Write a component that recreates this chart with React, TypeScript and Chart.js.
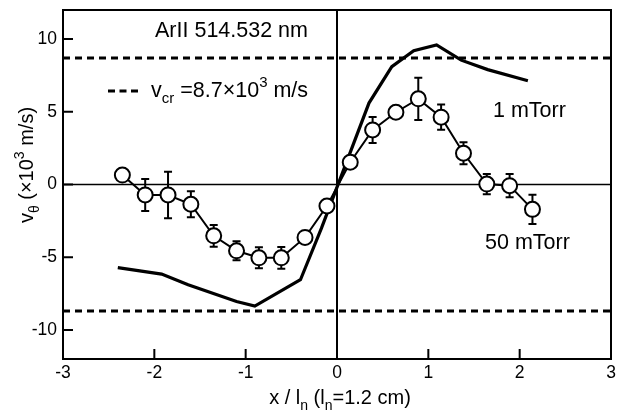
import React, { useEffect, useRef } from 'react';
import { Chart, registerables } from 'chart.js';

Chart.register(...registerables);

// 50 mTorr measured points (open circles with error bars)
const x50 = [-2.35, -2.1, -1.85, -1.6, -1.35, -1.1, -0.855, -0.61, -0.35, -0.11, 0.145, 0.39, 0.645, 0.89, 1.14, 1.385, 1.64, 1.89, 2.14];
const y50 = [0.65, -0.72, -0.72, -1.36, -3.53, -4.56, -5.04, -5.04, -3.64, -1.48, 1.53, 3.75, 4.97, 5.89, 4.63, 2.15, 0.03, -0.08, -1.71];
const err50 = [0, 1.1, 1.6, 0.9, 0.75, 0.65, 0.72, 0.75, 0, 0, 0, 0.9, 0, 1.45, 0.87, 0.75, 0.7, 0.8, 1.0];

// 1 mTorr solid curve
const x1 = [-2.4, -1.92, -1.63, -1.1, -0.9, -0.4, -0.17, 0.12, 0.35, 0.6, 0.84, 1.09, 1.36, 1.65, 2.09];
const y1 = [-5.72, -6.16, -6.9, -8.05, -8.36, -6.55, -3.0, 1.8, 5.6, 8.1, 9.2, 9.6, 8.55, 7.9, 7.14];

const vcr = 8.7;
const xTicks = [-3, -2, -1, 0, 1, 2, 3];
const yTicks = [-10, -5, 0, 5, 10];
const xMin = -3, xMax = 3, yMin = -12, yMax = 12;

const FONT = '"Liberation Sans", Arial, Helvetica, sans-serif';

type Seg = { t: string; sub?: boolean; sup?: boolean };

function drawRich(ctx: CanvasRenderingContext2D, segs: Seg[], x: number, y: number, size: number, align: 'left' | 'center') {
  const small = Math.round(size * 0.72);
  const widths = segs.map((s) => {
    ctx.font = `${s.sub || s.sup ? small : size}px ${FONT}`;
    return ctx.measureText(s.t).width;
  });
  const total = widths.reduce((a, b) => a + b, 0);
  let cx = align === 'center' ? x - total / 2 : x;
  ctx.textBaseline = 'alphabetic';
  ctx.textAlign = 'left';
  segs.forEach((s, i) => {
    ctx.font = `${s.sub || s.sup ? small : size}px ${FONT}`;
    const dy = s.sub ? size * 0.3 : s.sup ? -size * 0.45 : 0;
    ctx.fillText(s.t, cx, y + dy);
    cx += widths[i];
  });
}

const framePlugin = {
  id: 'framePlugin',
  beforeDatasetsDraw(chart: any) {
    const { ctx, scales } = chart;
    const xs = scales.x, ys = scales.y;
    ctx.save();
    ctx.strokeStyle = '#000';
    ctx.lineWidth = 2;
    x50.forEach((xv, i) => {
      const e = err50[i];
      if (!e) return;
      const px = xs.getPixelForValue(xv);
      const top = ys.getPixelForValue(y50[i] + e);
      const bot = ys.getPixelForValue(y50[i] - e);
      ctx.beginPath();
      ctx.moveTo(px, top);
      ctx.lineTo(px, bot);
      ctx.moveTo(px - 4, top);
      ctx.lineTo(px + 4, top);
      ctx.moveTo(px - 4, bot);
      ctx.lineTo(px + 4, bot);
      ctx.stroke();
    });
    ctx.restore();
  },
  afterDraw(chart: any) {
    const { ctx, chartArea: a, scales } = chart;
    const xs = scales.x, ys = scales.y;
    ctx.save();
    ctx.strokeStyle = '#000';
    ctx.fillStyle = '#000';
    ctx.lineWidth = 2;
    ctx.strokeRect(a.left, a.top, a.right - a.left, a.bottom - a.top);
    // inward ticks
    ctx.beginPath();
    xTicks.forEach((v) => {
      const px = xs.getPixelForValue(v);
      ctx.moveTo(px, a.bottom);
      ctx.lineTo(px, a.bottom - 10);
    });
    yTicks.forEach((v) => {
      const py = ys.getPixelForValue(v);
      ctx.moveTo(a.left, py);
      ctx.lineTo(a.left + 10, py);
    });
    ctx.stroke();

    // axis titles
    drawRich(ctx, [
      { t: 'x / l' }, { t: 'n', sub: true }, { t: ' (l' }, { t: 'n', sub: true }, { t: '=1.2 cm)' },
    ], (a.left + a.right) / 2 + 3, 404, 20, 'center');

    ctx.save();
    ctx.translate(33, 165);
    ctx.rotate(-Math.PI / 2);
    drawRich(ctx, [
      { t: 'v' }, { t: 'θ', sub: true }, { t: ' (×10' }, { t: '3', sup: true }, { t: ' m/s)' },
    ], 0, 0, 20, 'center');
    ctx.restore();

    // annotations
    drawRich(ctx, [{ t: 'ArII 514.532 nm' }], 155, 37, 21.5, 'left');

    ctx.save();
    ctx.lineWidth = 3;
    ctx.setLineDash([7, 4.5]);
    ctx.beginPath();
    ctx.moveTo(108, 91);
    ctx.lineTo(141, 91);
    ctx.stroke();
    ctx.restore();
    drawRich(ctx, [
      { t: 'v' }, { t: 'cr', sub: true }, { t: ' =8.7×10' }, { t: '3', sup: true }, { t: ' m/s' },
    ], 151, 97, 21.5, 'left');

    drawRich(ctx, [{ t: '1 mTorr' }], 493, 117, 21.5, 'left');
    drawRich(ctx, [{ t: '50 mTorr' }], 485, 249, 21.5, 'left');
    ctx.restore();
  },
};

export default function App() {
  const ref = useRef<HTMLCanvasElement>(null);
  useEffect(() => {
    if (!ref.current) return;
    const pts = (xa: number[], ya: number[]) => xa.map((x, i) => ({ x, y: ya[i] }));
    const chart = new Chart(ref.current, {
      type: 'line',
      data: {
        datasets: [
          {
            label: '50 mTorr',
            data: pts(x50, y50),
            borderColor: '#000',
            borderWidth: 2,
            pointRadius: 7.5,
            pointBorderWidth: 2,
            pointBackgroundColor: '#fff',
            pointBorderColor: '#000',
            tension: 0,
            order: 0,
          },
          {
            label: '1 mTorr',
            data: pts(x1, y1),
            borderColor: '#000',
            borderWidth: 3.2,
            pointRadius: 0,
            tension: 0,
            order: 1,
          },
          {
            label: 'vcr+',
            data: [{ x: xMin, y: vcr }, { x: xMax, y: vcr }],
            borderColor: '#000',
            borderWidth: 3,
            borderDash: [7, 5],
            pointRadius: 0,
            order: 2,
          },
          {
            label: 'vcr-',
            data: [{ x: xMin, y: -vcr }, { x: xMax, y: -vcr }],
            borderColor: '#000',
            borderWidth: 3,
            borderDash: [7, 5],
            pointRadius: 0,
            order: 2,
          },
          {
            label: 'zeroH',
            data: [{ x: xMin, y: 0 }, { x: xMax, y: 0 }],
            borderColor: '#000',
            borderWidth: 1.3,
            pointRadius: 0,
            order: 3,
          },
          {
            label: 'zeroV',
            data: [{ x: 0, y: yMin }, { x: 0, y: yMax }],
            borderColor: '#000',
            borderWidth: 2,
            pointRadius: 0,
            order: 3,
          },
        ],
      },
      options: {
        responsive: false,
        animation: false,
        devicePixelRatio: 1,
        layout: { padding: { left: 0, top: 10, right: 11, bottom: 0 } },
        plugins: { legend: { display: false }, tooltip: { enabled: false } },
        scales: {
          x: {
            type: 'linear',
            min: xMin,
            max: xMax,
            grid: { display: false, drawTicks: false },
            border: { display: false },
            afterBuildTicks: (s: any) => { s.ticks = xTicks.map((v) => ({ value: v })); },
            afterFit: (s: any) => { s.height = 61; s.paddingLeft = 0; s.paddingRight = 0; },
            ticks: { color: '#000', font: { family: FONT, size: 17.5 }, padding: 4, maxRotation: 0, autoSkip: false },
          },
          y: {
            type: 'linear',
            min: yMin,
            max: yMax,
            grid: { display: false, drawTicks: false },
            border: { display: false },
            afterBuildTicks: (s: any) => { s.ticks = yTicks.map((v) => ({ value: v })); },
            afterFit: (s: any) => { s.width = 63; s.paddingTop = 0; s.paddingBottom = 0; },
            ticks: { color: '#000', font: { family: FONT, size: 17.5 }, padding: 6, autoSkip: false },
          },
        },
      },
      plugins: [framePlugin],
    } as any);
    return () => chart.destroy();
  }, []);
  return (
    <div style={{ position: 'fixed', left: 0, top: 0, width: 622, height: 420, background: '#fff' }}>
      <canvas ref={ref} width={622} height={420} />
    </div>
  );
}
